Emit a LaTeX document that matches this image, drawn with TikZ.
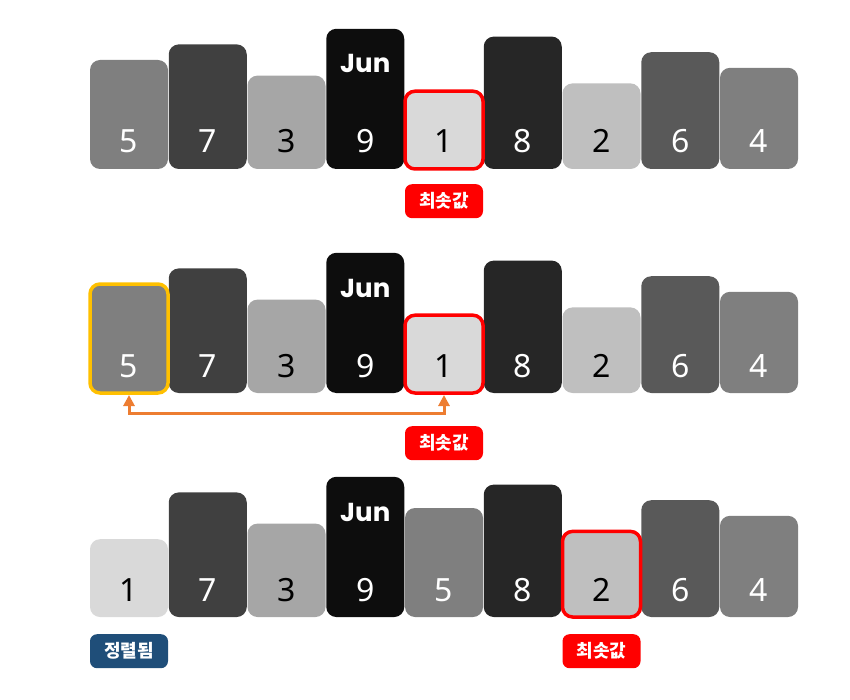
\documentclass[tikz,border=0pt]{standalone}
\usepackage{fontspec}
\setmainfont{Noto Sans}
\newfontfamily\krfont{Noto Sans CJK KR}
\newfontfamily\junfont{Poppins}
\usetikzlibrary{arrows.meta}
\definecolor{g1}{HTML}{D9D9D9}
\definecolor{g2}{HTML}{BFBFBF}
\definecolor{g3}{HTML}{A6A6A6}
\definecolor{g4}{HTML}{7F7F7F}
\definecolor{g5}{HTML}{7F7F7F}
\definecolor{g6}{HTML}{595959}
\definecolor{g7}{HTML}{404040}
\definecolor{g8}{HTML}{262626}
\definecolor{g9}{HTML}{0D0D0D}
\colorlet{t1}{black}\colorlet{t2}{black}\colorlet{t3}{black}
\colorlet{t4}{white}\colorlet{t5}{white}\colorlet{t6}{white}
\colorlet{t7}{white}\colorlet{t8}{white}\colorlet{t9}{white}
\definecolor{minred}{HTML}{FF0000}
\definecolor{selorange}{HTML}{FFC000}
\definecolor{arrorange}{HTML}{ED7D31}
\definecolor{doneblue}{HTML}{1F4E79}

\begin{document}
\begin{tikzpicture}[x=1pt,y=-1pt,
		bar/.style={rounded corners=10pt, inner sep=0, outer sep=0, minimum width=78pt, anchor=south},
		num/.style={anchor=base, font=\fontsize{32}{32}\selectfont},
		tag/.style={rounded corners=7pt, inner sep=0, minimum width=78pt, minimum height=34pt, anchor=north, text=white, font=\krfont\bfseries\fontsize{18}{18}\selectfont},
		hilite/.style={line width=3.5pt, rounded corners=10pt},
		swaparr/.style={draw=arrorange, line width=3pt, {Triangle[length=11pt,width=11pt]}-{Triangle[length=11pt,width=11pt]}}]
				\useasboundingbox (0,0) rectangle (850,700);
				\foreach \r/\base/\vals in {1/169/{5,7,3,9,1,8,2,6,4}, 2/393/{5,7,3,9,1,8,2,6,4}, 3/617/{1,7,3,9,5,8,2,6,4}} {
					\foreach \v [count=\i] in \vals {
						\node[bar, fill=g\v, minimum height={(70+7.8*\v)*1pt}] (b\r-\i) at (129+78.75*\i-78.75, \base) {};
						\node[num, text=t\v] (n\r-\i) at ([yshift=16pt]b\r-\i.south) {\v};
					}
					\node[anchor=base, text=white, font=\junfont\bfseries\fontsize{26}{26}\selectfont] (jun\r) at ([yshift=96pt]b\r-4.south) {Jun};
				}
				% highlighted bars
				\draw[hilite, draw=minred] (b1-5.south west) rectangle (b1-5.north east);
				\draw[hilite, draw=selorange] (b2-1.south west) rectangle (b2-1.north east);
				\draw[hilite, draw=minred] (b2-5.south west) rectangle (b2-5.north east);
				\draw[hilite, draw=minred] (b3-7.south west) rectangle (b3-7.north east);
				% swap
				\draw[swaparr] ([yshift=-2pt]b2-1.south) -- ++(0,18) -| ([yshift=-2pt]b2-5.south);
				% tags
				\node[tag, fill=minred] (min1) at ([yshift=-15pt]b1-5.south) {최솟값};
				\node[tag, fill=minred] (min2) at ([yshift=-33pt]b2-5.south) {최솟값};
				\node[tag, fill=doneblue] (done3) at ([yshift=-17pt]b3-1.south) {정렬됨};
				\node[tag, fill=minred] (min3) at ([yshift=-17pt]b3-7.south) {최솟값};
			\end{tikzpicture}
\end{document}
